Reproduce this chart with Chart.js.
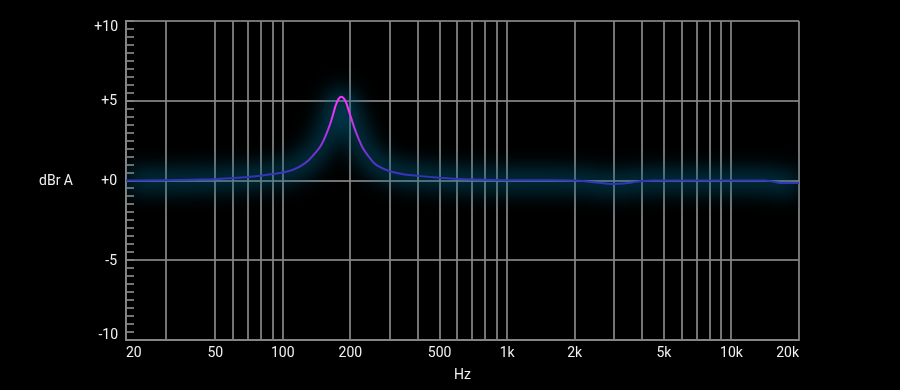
<!DOCTYPE html>
<html>
<head>
<meta charset="utf-8">
<script src="https://cdn.jsdelivr.net/npm/chart.js@4"></script>
<style>
  body { margin: 0; background: #000; }
  canvas { display: block; }
</style>
</head>
<body>
<canvas id="eqChart" width="900" height="390"></canvas>
<script>
// frequency response (Hz -> dB)
const freqs = [20, 30, 40, 50, 60, 70, 80, 90, 100, 110, 120, 130, 140, 147, 153, 159, 164, 168, 172, 177, 182, 187, 192, 197, 204, 210, 218, 226, 240, 255, 270, 300, 350, 400, 500, 600, 700, 800, 1000, 1500, 2000, 2200, 2500, 2800, 3000, 3300, 3600, 4000, 4500, 10000, 14000, 15500, 16500, 20000];
const levels = [0, 0.02, 0.05, 0.08, 0.15, 0.22, 0.3, 0.4, 0.5, 0.65, 0.9, 1.25, 1.75, 2.13, 2.6, 3.17, 3.7, 4.2, 4.7, 5.1, 5.25, 5.15, 4.85, 4.35, 3.7, 3.17, 2.6, 2.1, 1.55, 1.1, 0.85, 0.58, 0.38, 0.29, 0.17, 0.1, 0.06, 0.04, 0.02, 0.01, 0, -0.04, -0.13, -0.2, -0.22, -0.19, -0.12, -0.03, 0, 0, 0, -0.08, -0.15, -0.15];

// grid lines on the frequency axis and which of them carry a label
const freqGrid = [20, 30, 50, 60, 70, 80, 90, 100, 200, 300, 400, 500, 600, 700, 800, 900, 1000, 2000, 3000, 4000, 5000, 6000, 7000, 8000, 9000, 10000, 20000];
const freqLabels = { 20: '20', 50: '50', 100: '100', 200: '200', 500: '500', 1000: '1k', 2000: '2k', 5000: '5k', 10000: '10k', 20000: '20k' };
const dbLabels = { 5: '+5', 0: '+0', '-5': '-5' };
const dbEdgeLabels = { 10: '+10', '-10': '-10' };

const gridGray = 'rgba(135,135,135,0.85)';
const textColor = '#f0f0f0';

// blurred teal glow under the trace, edge dB labels and the "dBr A" caption
const glowPlugin = {
  id: 'glow',
  beforeDatasetDraw(chart, args) {
    if (args.index !== 1) return;
    chart.ctx.save();
    chart.ctx.filter = 'blur(11px)';
  },
  afterDatasetDraw(chart, args) {
    if (args.index !== 1) return;
    chart.ctx.restore();
  },
  afterDraw(chart) {
    const ctx = chart.ctx;
    const y = chart.scales.y;
    ctx.save();
    ctx.font = '14px Roboto';
    ctx.fillStyle = textColor;
    ctx.textAlign = 'right';
    ctx.textBaseline = 'middle';
    ctx.fillText('dBr A', 73, y.getPixelForValue(0) + 1);
    ctx.fillText(dbEdgeLabels[10], 118, y.getPixelForValue(10) + 6);
    ctx.fillText(dbEdgeLabels[-10], 118, y.getPixelForValue(-10) - 5);
    ctx.restore();
  }
};

const points = freqs.map((f, i) => ({ x: f, y: levels[i] }));

const ctx = document.getElementById('eqChart').getContext('2d');
new Chart(ctx, {
  type: 'line',
  data: {
    datasets: [{
      data: points,
      order: 1,
      borderWidth: 2,
      pointRadius: 0,
      cubicInterpolationMode: 'monotone',
      borderColor: function (context) {
        const chart = context.chart;
        if (!chart.chartArea) return '#3a3ac8';
        const y0 = chart.scales.y.getPixelForValue(0.3);
        const y1 = chart.scales.y.getPixelForValue(4.6);
        const g = chart.ctx.createLinearGradient(0, y0, 0, y1);
        g.addColorStop(0, '#3333bb');
        g.addColorStop(1, '#ff30ff');
        return g;
      }
    }, {
      // glow
      data: points,
      order: 2,
      borderWidth: 18,
      pointRadius: 0,
      cubicInterpolationMode: 'monotone',
      borderColor: 'rgba(0,105,140,0.6)'
    }]
  },
  options: {
    responsive: false,
    animation: false,
    devicePixelRatio: 1,
    layout: { padding: { top: 21, right: 101, bottom: 0, left: 0 } },
    plugins: {
      legend: { display: false },
      tooltip: { enabled: false }
    },
    scales: {
      x: {
        type: 'logarithmic',
        min: 20,
        max: 20000,
        afterBuildTicks: function (scale) {
          scale.ticks = freqGrid.map(v => ({ value: v }));
        },
        afterFit: function (scale) { scale.height = 50; },
        grid: { color: gridGray, lineWidth: 2, drawTicks: false },
        border: { color: gridGray, width: 2 },
        ticks: {
          autoSkip: false,
          maxRotation: 0,
          align: 'inner',
          padding: 5,
          color: textColor,
          font: { family: 'Roboto', size: 14 },
          callback: function (value) { return freqLabels[value] || ''; }
        },
        title: {
          display: true,
          text: 'Hz',
          color: textColor,
          font: { family: 'Roboto', size: 14 },
          padding: { top: 0, bottom: 6 }
        }
      },
      y: {
        min: -10,
        max: 10,
        afterFit: function (scale) {
          scale.width = 126;
          scale.paddingTop = 0;
          scale.paddingBottom = 0;
        },
        grid: {
          lineWidth: 2,
          tickLength: -8,
          tickWidth: 2,
          tickColor: gridGray,
          color: function (c) {
            return c.tick && Math.abs(c.tick.value % 5) < 1e-6 ? gridGray : 'rgba(0,0,0,0)';
          }
        },
        border: { color: gridGray, width: 2 },
        ticks: {
          stepSize: 0.5,
          autoSkip: false,
          padding: 17,
          labelOffset: 1,
          color: textColor,
          font: { family: 'Roboto', size: 14 },
          callback: function (value) { return dbLabels[value] || ''; }
        }
      }
    }
  },
  plugins: [glowPlugin]
});
</script>
</body>
</html>
